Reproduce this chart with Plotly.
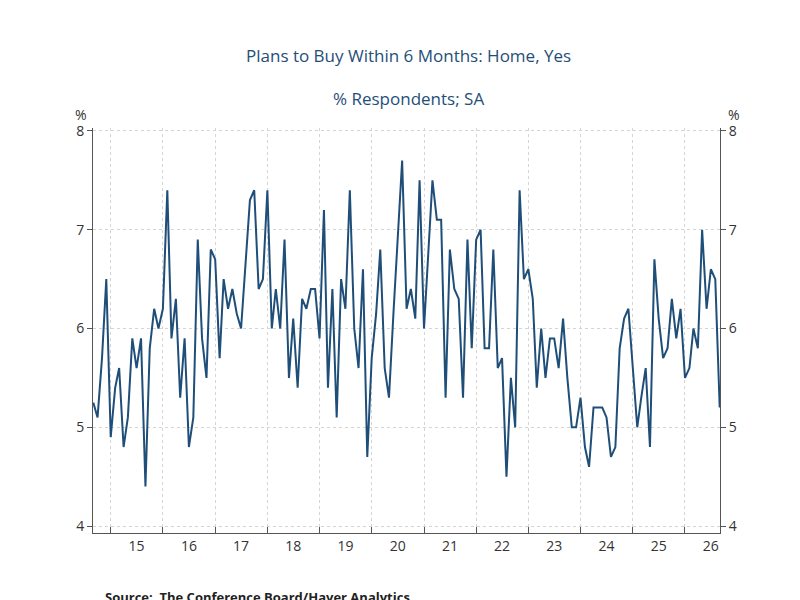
import pandas as pd
import plotly.graph_objects as go

start_month = "2014-09-01"
values = [
    5.25, 5.1, 5.7, 6.5, 4.9, 5.4, 5.6, 4.8, 5.1, 5.9, 5.6, 5.9, 4.4, 5.8, 6.2, 6.0, 6.2, 7.4, 5.9, 6.3,
    5.3, 5.9, 4.8, 5.1, 6.9, 5.9, 5.5, 6.8, 6.7, 5.7,
    6.5, 6.2, 6.4, 6.15, 6.0, 6.6, 7.3, 7.4, 6.4, 6.5, 7.4, 6.0, 6.4, 6.0, 6.9, 5.5, 6.1, 5.4, 6.3, 6.2,
    6.4, 6.4, 5.9, 7.2, 5.4, 6.4, 5.1,
    6.5, 6.2, 7.4, 6.0, 5.6, 6.6, 4.7, 5.7, 6.15, 6.8, 5.6, 5.3, 6.15, 6.9, 7.7, 6.2, 6.4, 6.1, 7.5, 6.0,
    6.8, 7.5, 7.1, 7.1, 5.3, 6.8, 6.4, 6.3,
    5.3, 6.9, 5.8, 6.9, 7.0, 5.8, 5.8, 6.8, 5.6, 5.7, 4.5, 5.5, 5.0, 7.4, 6.5, 6.6, 6.3, 5.4, 6.0, 5.5,
    5.9, 5.9, 5.6, 6.1, 5.5, 5.0, 5.0,
    5.3, 4.8, 4.6, 5.2, 5.2, 5.2, 5.1, 4.7, 4.8, 5.8, 6.1, 6.2, 5.6, 5.0, 5.3, 5.6, 4.8, 6.7, 6.1, 5.7,
    5.8, 6.3, 5.9, 6.2, 5.5, 5.6, 6.0, 5.8, 7.0, 6.2, 6.6, 6.5, 5.2,
]
years = list(range(2015, 2027))
year_labels = [str(y)[2:] for y in years]
y_ticks = [4, 5, 6, 7, 8]

dates = pd.date_range(start_month, periods=len(values), freq="MS")
navy = "#1f4e79"
text_col = "#1f4e79"
font = "Open Sans, DejaVu Sans, sans-serif"
grid = "#d4d4d4"

fig = go.Figure()
fig.add_trace(go.Scatter(x=dates, y=values, mode="lines",
                         line=dict(color=navy, width=2), showlegend=False))
fig.add_trace(go.Scatter(x=dates, y=values, mode="lines", yaxis="y2",
                         line=dict(width=0), hoverinfo="skip", showlegend=False))

mid_years = [f"{y}-07-01" for y in years]
jan_years = [f"{y}-01-01" for y in years]

L, R, T, B = 85, 88, 120, 75
W, H = 800, 600

fig.update_layout(
    width=W, height=H,
    paper_bgcolor="white", plot_bgcolor="white",
    margin=dict(l=L, r=R, t=T, b=B),
    font=dict(family=font, size=14, color="#333"),
    xaxis=dict(
        range=[dates[0] - pd.Timedelta(days=2), dates[-1] + pd.Timedelta(days=2)],
        tickmode="array", tickvals=mid_years, ticktext=year_labels,
        ticks="", showgrid=False, showline=True, linecolor="#555", linewidth=1,
        zeroline=False, tickfont=dict(size=14, color="#333"),
        minor=dict(tickmode="array", tickvals=jan_years, ticks="inside", ticklen=6,
                   tickcolor="#555", showgrid=True, gridcolor=grid, gridwidth=0.8,
                   griddash="3px,3px"),
    ),
    yaxis=dict(
        range=[3.93, 8.03], tickvals=y_ticks, ticks="outside", ticklen=5, tickcolor="#555",
        showline=True, linecolor="#555", linewidth=1, zeroline=False,
        showgrid=True, gridcolor=grid, gridwidth=0.8, griddash="3px,3px",
        tickfont=dict(size=14, color="#333"),
    ),
    yaxis2=dict(
        range=[3.93, 8.03], tickvals=y_ticks, overlaying="y", side="right",
        ticks="outside", ticklen=5, tickcolor="#555", showline=True, linecolor="#555",
        linewidth=1, showgrid=False, zeroline=False, tickfont=dict(size=14, color="#333"),
    ),
)


def px_note(text, x, y, size=14, color="#333", xanchor="center"):
    fig.add_annotation(text=text, xref="paper", yref="paper",
                       x=(x - L) / (W - L - R), y=1 - (y - T) / (H - T - B),
                       xanchor=xanchor, yanchor="middle", showarrow=False,
                       font=dict(size=size, color=color))


px_note("Plans to Buy Within 6 Months: Home, Yes", 400, 48, size=17, color=text_col)
px_note("% Respondents; SA", 400, 90, size=17, color=text_col)
px_note("%", 73, 106)
px_note("%", 726, 106)
px_note("<b>Source:  The Conference Board/Haver Analytics</b>", 95, 589, size=13,
        color="#222", xanchor="left")

fig.write_html("out.html")
